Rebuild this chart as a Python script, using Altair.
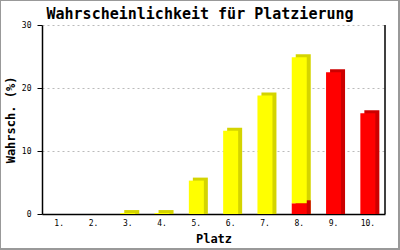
import altair as alt
import pandas as pd

places = ["1.", "2.", "3.", "4.", "5.", "6.", "7.", "8.", "9.", "10."]
yellow_vals = [0, 0, 0.15, 0.15, 5.3, 13.2, 18.8, 23.2, 0, 0]
red_vals = [0, 0, 0, 0, 0, 0, 0, 1.7, 22.5, 16.0]
title_text = "Wahrscheinlichkeit für Platzierung"

df = pd.DataFrame({"place": places, "yellow": yellow_vals, "red": red_vals})
df["total"] = df["yellow"] + df["red"]

W, H = 343, 189
MONO = "DejaVu Sans Mono"

xenc = alt.X("place:N", sort=places, title="Platz",
             scale=alt.Scale(domain=places, paddingInner=0, paddingOuter=0),
             axis=alt.Axis(labelFont=MONO, labelFontSize=8, labelColor="black",
                           labelAngle=0, ticks=False, domainColor="black",
                           domainWidth=1.5, labelPadding=5,
                           titleFont=MONO, titleFontSize=12, titleFontWeight="bold",
                           titlePadding=6, titleColor="black"))
yscale = alt.Scale(domain=[0, 30], nice=False)
yaxis = alt.Axis(values=[0, 10, 20, 30], labelFont=MONO, labelFontSize=8,
                 labelColor="black", tickColor="black", tickSize=5,
                 domainColor="black", domainWidth=1.5, labelPadding=6,
                 gridColor="#bbbbbb", gridDash=[2, 3], gridWidth=1,
                 titleFont=MONO, titleFontSize=12, titleFontWeight="bold",
                 titleColor="black", titlePadding=4)

base = alt.Chart(df)

yellow_shadow = base.transform_filter("datum.yellow > 0").mark_bar(
    size=15, color="#d4d400", xOffset=4, yOffset=-3
).encode(x=xenc, y=alt.Y("total:Q", scale=yscale, axis=yaxis, title="Wahrsch. (%)"),
         y2=alt.datum(0))

red_shadow = base.transform_filter("datum.red > 0").mark_bar(
    size=15, color="#cc0000", xOffset=4, yOffset=-3
).encode(x=xenc, y=alt.Y("red:Q", scale=yscale), y2=alt.datum(0))

red_front = base.transform_filter("datum.red > 0").mark_bar(
    size=15, color="#ff0000"
).encode(x=xenc, y=alt.Y("red:Q", scale=yscale), y2=alt.datum(0))

yellow_front = base.transform_filter("datum.yellow > 0").mark_bar(
    size=15, color="#ffff00"
).encode(x=xenc, y=alt.Y("total:Q", scale=yscale), y2="red:Q")

right_line = alt.Chart(pd.DataFrame({"a": [0]})).mark_rule(
    color="black", strokeWidth=1.5
).encode(x=alt.value(W), y=alt.value(0), y2=alt.value(H))

frame = alt.Chart(pd.DataFrame({"a": [0]})).mark_rect(
    fill="transparent", stroke="#999999", strokeWidth=2
).encode(x=alt.value(-42), x2=alt.value(357), y=alt.value(-25), y2=alt.value(224))

title = alt.Chart(pd.DataFrame({"t": [title_text]})).mark_text(
    font=MONO, fontSize=15, fontWeight="bold", color="black",
    align="center", baseline="alphabetic"
).encode(text="t:N", x=alt.value(158), y=alt.value(-6))

chart = alt.layer(
    yellow_shadow, red_shadow, red_front, yellow_front, right_line, frame, title
).properties(
    width=W, height=H,
    autosize=alt.AutoSizeParams(type="none"),
    padding={"left": 42, "top": 25, "right": 15, "bottom": 36},
    background="white",
).configure_view(stroke=None)

chart.save("out.html", embed_options={"renderer": "svg", "actions": False})
